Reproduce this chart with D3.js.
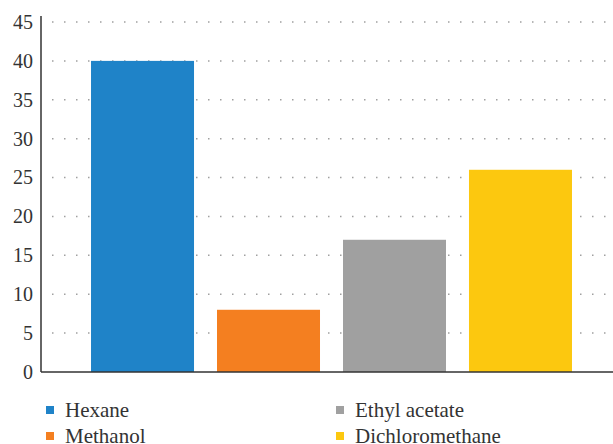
<!DOCTYPE html>
<html><head><meta charset="utf-8">
<script src="https://cdn.jsdelivr.net/npm/d3@7"></script>
<style>body{margin:0;background:#fff}svg{display:block}</style>
</head><body>
<script>
const categories = ["Hexane", "Methanol", "Ethyl acetate", "Dichloromethane"];
const values = [40, 8, 17, 26];
const colors = ["#1f83c8", "#f47f20", "#a0a0a0", "#fcc80f"];
const yTicks = [0, 5, 10, 15, 20, 25, 30, 35, 40, 45];

const W = 613, H = 444;
const svg = d3.select("body").append("svg").attr("width", W).attr("height", H);
const font = "'Liberation Serif', 'DejaVu Serif', serif";

const x = d3.scaleBand().domain(categories).range([41, 622]).paddingInner(0.1825).paddingOuter(0.397);
const y = d3.scaleLinear().domain([0, 45]).range([372, 22]);

// gridlines
svg.append("g").selectAll("line").data(yTicks.filter(d => d > 0)).join("line")
  .attr("x1", 52).attr("x2", W).attr("y1", d => y(d)).attr("y2", d => y(d))
  .attr("stroke", "#a0a0a0").attr("stroke-width", 1.5).attr("stroke-dasharray", "1.5,10.5");

// bars
svg.append("g").selectAll("rect").data(categories).join("rect")
  .attr("x", d => x(d)).attr("width", x.bandwidth())
  .attr("y", (d, i) => y(values[i])).attr("height", (d, i) => y(0) - y(values[i]))
  .attr("fill", (d, i) => colors[i]);

// y axis
const yAxis = svg.append("g").attr("transform", "translate(41,0)")
  .call(d3.axisLeft(y).tickValues(yTicks).tickSize(0).tickPadding(8));
yAxis.select(".domain").attr("stroke", "#333").attr("stroke-width", 1.5).attr("d", "M0,16V372");
yAxis.selectAll("text").attr("font-family", font).attr("font-size", 20).attr("fill", "#333");

// x baseline
svg.append("line").attr("x1", 41).attr("x2", W).attr("y1", y(0)).attr("y2", y(0))
  .attr("stroke", "#333").attr("stroke-width", 1.5);

// legend
const legPos = [[46, 410], [46, 436], [336, 410], [336, 436]];
const leg = svg.append("g").selectAll("g").data(categories).join("g")
  .attr("transform", (d, i) => `translate(${legPos[i][0]},${legPos[i][1]})`);
leg.append("rect").attr("x", 0).attr("y", -4).attr("width", 8).attr("height", 8)
  .attr("fill", (d, i) => colors[i]);
leg.append("text").attr("x", 19).attr("y", 0).attr("dy", "0.35em")
  .attr("font-family", font).attr("font-size", 21).attr("fill", "#333").text(d => d);
</script>
</body></html>
